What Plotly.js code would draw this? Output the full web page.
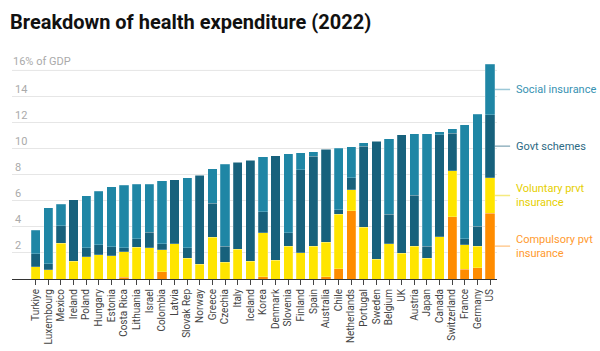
<!DOCTYPE html>
<html>
<head>
<meta charset="utf-8">
<script src="https://cdn.plot.ly/plotly-3.0.1.min.js"></script>
<style>html,body{margin:0;padding:0;background:#fff;}#chart{width:600px;height:351px;}</style>
</head>
<body>
<div id="chart"></div>
<script>
const countries = ["Turkiye","Luxembourg","Mexico","Ireland","Poland","Hungary","Estonia","Costa Rica","Lithuania","Israel","Colombia","Latvia","Slovak Rep","Norway","Greece","Czechia","Italy","Iceland","Korea","Denmark","Slovenia","Finland","Spain","Australia","Chile","Netherlands","Portugal","Sweden","Belgium","UK","Austria","Japan","Canada","Switzerland","France","Germany","US"];
const compulsory = [0,0,0,0,0,0,0,0.15,0,0,0.56,0,0,0,0,0,0,0,0.18,0,0,0,0,0.18,0.77,5.24,0,0,0,0,0,0,0,4.78,0.74,0.87,5.04];
const voluntary = [0.95,0.72,2.76,1.38,1.71,1.87,1.79,1.95,2.43,2.38,1.69,2.69,1.61,1.15,3.22,1.30,2.30,1.38,3.35,1.43,2.51,2.02,2.51,2.63,4.19,1.59,3.96,1.53,2.69,1.97,2.53,1.59,3.25,3.51,1.87,1.66,2.73];
const govt = [0.99,0.46,1.33,4.71,0.67,0.74,0.69,0.28,0.66,1.20,0.46,4.93,0.77,6.80,2.61,1.21,6.65,7.72,1.64,8.03,1.02,6.37,6.90,7.16,0.36,0.94,6.22,9.03,2.27,9.08,3.89,0.92,7.82,2.91,0.48,1.51,4.84];
const social = [1.79,4.27,1.66,0,4.01,4.14,4.58,4.81,4.17,3.68,4.83,0,5.37,0,2.64,6.31,0,0,4.22,0,6.09,1.28,0.36,0,4.71,2.36,0.28,0,5.81,0,4.71,8.62,0.21,0.33,8.75,8.59,3.86];
const yTickVals = [2,4,6,8,10,12,14,16];
const yTickText = ["2","4","6","8","10","12","14","16% of GDP"];

const series = [
  {name:"Compulsory pvt<br>insurance", y:compulsory, color:"#ff8c00", text:"#ff9a2e", line:"rgba(255,154,46,0.5)"},
  {name:"Voluntary prvt<br>insurance", y:voluntary, color:"#ffe500", text:"#e6cf00", line:"rgba(235,214,0,0.5)"},
  {name:"Govt schemes", y:govt, color:"#17617c", text:"#2c6a84", line:"rgba(44,106,132,0.5)"},
  {name:"Social insurance", y:social, color:"#1f86a5", text:"#3792b2", line:"rgba(55,146,178,0.5)"}
];

const traces = series.map(s => ({
  type:"bar", x:countries, y:s.y, name:s.name,
  marker:{color:s.color, line:{color:"rgba(255,255,255,0.35)", width:0.6}},
  hoverinfo:"x+y"
}));

const last = countries.length - 1;
let cum = 0;
const shapes = [], annotations = [];
series.forEach(s => {
  const mid = cum + s.y[last] / 2;
  cum += s.y[last];
  shapes.push({type:"line", xref:"paper", yref:"y", x0:0.9955, x1:1.027, y0:mid, y1:mid,
    line:{color:s.line, width:1.5}});
  annotations.push({xref:"paper", yref:"y", x:1.035, y:mid, xanchor:"left", yanchor:"middle",
    text:s.name, showarrow:false, align:"left",
    font:{family:"Roboto", size:11, color:s.text}});
});
// top y label (inside tick labels at the top edge get hidden by Plotly)
annotations.push({xref:"paper", yref:"y", x:0, y:yTickVals[yTickVals.length-1], xanchor:"left", yanchor:"bottom",
  xshift:-1, yshift:0, text:yTickText[yTickText.length-1], showarrow:false,
  font:{family:"Roboto", size:11, color:"#aaa"}});

const layout = {
  width:600, height:351,
  margin:{l:12, r:103, t:63, b:72},
  paper_bgcolor:"#fff", plot_bgcolor:"#fff",
  barmode:"stack", bargap:0.27,
  showlegend:false,
  font:{family:"Roboto", color:"#333"},
  title:{text:"<b>Breakdown of health expenditure (2022)</b>", x:10/600, xanchor:"left",
    y:1-22/351, yanchor:"middle", yref:"container",
    font:{family:"Roboto", size:20, color:"#111"}},
  xaxis:{type:"category", range:[-1.88, 36.55], tickangle:-90,
    tickfont:{family:"Roboto", size:10, color:"#444"},
    ticks:"outside", ticklen:5, tickcolor:"#444", tickwidth:1,
    showgrid:false, showline:true, linecolor:"#333", linewidth:1, fixedrange:true},
  yaxis:{range:[0,16.57], tickvals:yTickVals.slice(0,-1), ticktext:yTickText.slice(0,-1),
    ticklabelposition:"inside top", tickfont:{family:"Roboto", size:11, color:"#aaa"},
    showgrid:true, gridcolor:"#e6e6e6", gridwidth:1, zeroline:false, showline:false, ticks:"", fixedrange:true},
  shapes:shapes.concat([{type:"line", xref:"paper", yref:"y", x0:0, x1:1, y0:yTickVals[yTickVals.length-1], y1:yTickVals[yTickVals.length-1], line:{color:"#e6e6e6", width:1}, layer:"below"}]),
  annotations:annotations
};

Plotly.newPlot("chart", traces, layout, {displayModeBar:false, staticPlot:true});
</script>
</body>
</html>
